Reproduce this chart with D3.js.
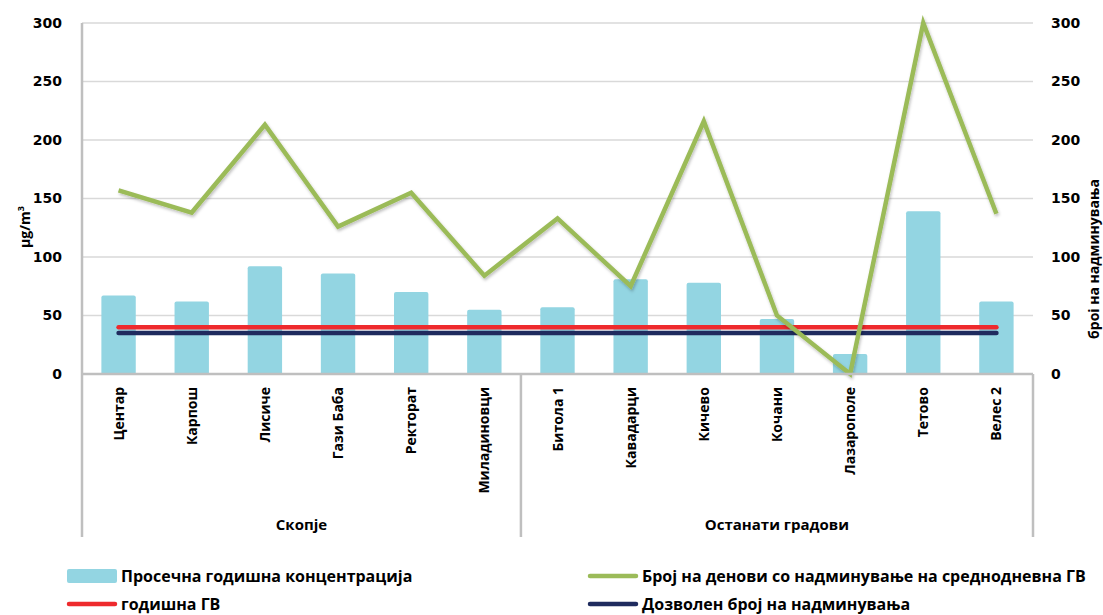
<!DOCTYPE html>
<html>
<head>
<meta charset="utf-8">
<script src="https://cdn.jsdelivr.net/npm/d3@7"></script>
<style>
  html, body { margin: 0; padding: 0; background: #fff; }
  svg { display: block; }
  text { font-family: "Open Sans", "DejaVu Sans", sans-serif; font-weight: bold; fill: #000; }
  .tick-num { font-family: "DejaVu Sans", sans-serif; font-size: 14px; }
</style>
</head>
<body>
<svg id="chart" width="1103" height="615"></svg>
<script>
// Measuring stations, grouped
const stations = ["Центар", "Карпош", "Лисиче", "Гази Баба", "Ректорат", "Миладиновци",
                  "Битола 1", "Кавадарци", "Кичево", "Кочани", "Лазарополе", "Тетово", "Велес 2"];
const groups = [
  { name: "Скопје", first: "Центар", last: "Миладиновци" },
  { name: "Останати градови", first: "Битола 1", last: "Велес 2" }
];
// Average annual concentration (µg/m³)
const annualMean = [67, 62, 92, 86, 70, 55, 57, 81, 78, 47, 17, 139, 62];
// Number of days above the daily limit value
const daysExceeded = [157, 138, 213, 126, 155, 84, 133, 75, 216, 50, 0, 300, 137];
// Annual limit value and allowed number of exceedances
const annualLimit = 40;
const allowedExceedances = 35;
const yTicks = [0, 50, 100, 150, 200, 250, 300];

const colors = { bar: "#93D5E2", days: "#9BBB59", limit: "#EE2A2D", allowed: "#1F2B5E", grid: "#D9D9D9", axis: "#BFBFBF" };

const svg = d3.select("#chart");
const plot = { left: 82, right: 1033, top: 23, bottom: 374 };

const x = d3.scaleBand().domain(stations).range([plot.left, plot.right]).paddingInner(0.53).paddingOuter(0.265);
const yLeft = d3.scaleLinear().domain([0, 300]).range([plot.bottom, plot.top]);
const yRight = d3.scaleLinear().domain([0, 300]).range([plot.bottom, plot.top]);
const cx = s => x(s) + x.bandwidth() / 2;

// shadow under the exceedance line
const defs = svg.append("defs");
const f = defs.append("filter").attr("id", "shadow").attr("x", "-5%").attr("y", "-5%").attr("width", "110%").attr("height", "110%");
f.append("feDropShadow").attr("dx", 1).attr("dy", 2).attr("stdDeviation", 1.5).attr("flood-color", "#000").attr("flood-opacity", 0.25);

// gridlines
svg.append("g").selectAll("line").data(yTicks.filter(d => d > 0)).join("line")
  .attr("x1", plot.left).attr("x2", plot.right)
  .attr("y1", d => yLeft(d)).attr("y2", d => yLeft(d))
  .attr("stroke", colors.grid).attr("stroke-width", 1.5);

// bars
svg.append("g").selectAll("path").data(stations).join("path")
  .attr("fill", colors.bar)
  .attr("d", (s, i) => {
    const x0 = x(s), w = x.bandwidth(), y0 = yLeft(annualMean[i]), y1 = yLeft(0), r = 2;
    return `M${x0},${y1}V${y0 + r}Q${x0},${y0} ${x0 + r},${y0}H${x0 + w - r}Q${x0 + w},${y0} ${x0 + w},${y0 + r}V${y1}Z`;
  });

// constant reference lines
const refLine = d3.line().x(d => cx(d.s)).y(d => yLeft(d.v));
svg.append("path")
  .attr("d", refLine(stations.map(s => ({ s, v: annualLimit }))))
  .attr("fill", "none").attr("stroke", colors.limit).attr("stroke-width", 4.5).attr("stroke-linecap", "round");
svg.append("path")
  .attr("d", refLine(stations.map(s => ({ s, v: allowedExceedances }))))
  .attr("fill", "none").attr("stroke", colors.allowed).attr("stroke-width", 4.5).attr("stroke-linecap", "round");

// exceedance days (right axis)
const daysLine = d3.line().x((d, i) => cx(stations[i])).y(d => yRight(d));
svg.append("path")
  .attr("d", daysLine(daysExceeded))
  .attr("fill", "none").attr("stroke", colors.days).attr("stroke-width", 4.5)
  .attr("stroke-linejoin", "miter").attr("filter", "url(#shadow)");

// category axis frame
const axisBottom = 537;
svg.append("line").attr("x1", plot.left).attr("x2", plot.right).attr("y1", plot.bottom).attr("y2", plot.bottom)
  .attr("stroke", colors.axis).attr("stroke-width", 2.5);
svg.append("line").attr("x1", plot.left).attr("x2", plot.left).attr("y1", plot.top).attr("y2", axisBottom)
  .attr("stroke", colors.axis).attr("stroke-width", 2.5);
const dividers = [plot.left, x(groups[1].first) - x.step() * x.paddingInner() / 2, plot.right];
svg.append("g").selectAll("line").data(dividers.slice(1)).join("line")
  .attr("x1", d => d).attr("x2", d => d).attr("y1", plot.bottom).attr("y2", axisBottom)
  .attr("stroke", colors.axis).attr("stroke-width", 2.5);

// station labels (rotated)
svg.append("g").selectAll("text").data(stations).join("text")
  .attr("transform", s => `translate(${cx(s) + 5},387) rotate(-90)`)
  .attr("text-anchor", "end").style("font-size", "14px")
  .text(s => s);

// group labels
svg.append("g").selectAll("text").data(groups).join("text")
  .attr("x", g => (x(g.first) + x(g.last) + x.bandwidth()) / 2)
  .attr("y", 530).attr("text-anchor", "middle").style("font-size", "15px")
  .text(g => g.name);

// left axis
const leftAxis = svg.append("g").attr("transform", `translate(${plot.left},0)`)
  .call(d3.axisLeft(yLeft).tickValues(yTicks).tickSize(0).tickPadding(20));
leftAxis.select(".domain").remove();
leftAxis.selectAll("text").attr("class", "tick-num").attr("fill", "#000");

// right axis
const rightAxis = svg.append("g").attr("transform", `translate(${plot.right},0)`)
  .call(d3.axisRight(yRight).tickValues(yTicks).tickSize(0).tickPadding(18));
rightAxis.select(".domain").remove();
rightAxis.selectAll("text").attr("class", "tick-num").attr("fill", "#000");

// axis titles
const leftTitle = svg.append("text").attr("transform", "translate(30,227) rotate(-90)")
  .attr("text-anchor", "middle").style("font-size", "14px");
leftTitle.append("tspan").text("µg/m");
leftTitle.append("tspan").attr("dy", -6).style("font-size", "9px").text("3");
svg.append("text").attr("transform", "translate(1099,259) rotate(-90)")
  .attr("text-anchor", "middle").style("font-size", "14px")
  .text("броі на надминувања");

// legend
const legend = [
  { label: "Просечна годишна концентрација", type: "rect", color: colors.bar, x: 67, y: 576 },
  { label: "Број на денови со надминување на среднодневна ГВ", type: "line", color: colors.days, x: 588, y: 576 },
  { label: "годишна ГВ", type: "line", color: colors.limit, x: 67, y: 604 },
  { label: "Дозволен број на надминувања", type: "line", color: colors.allowed, x: 588, y: 604 }
];
const lg = svg.append("g").selectAll("g").data(legend).join("g")
  .attr("transform", d => `translate(${d.x},${d.y})`);
lg.filter(d => d.type === "rect").append("rect")
  .attr("x", 0).attr("y", -7).attr("width", 50).attr("height", 14).attr("rx", 2).attr("fill", d => d.color);
lg.filter(d => d.type === "line").append("line")
  .attr("x1", 2).attr("x2", 48).attr("y1", 0).attr("y2", 0)
  .attr("stroke", d => d.color).attr("stroke-width", 4.5).attr("stroke-linecap", "round");
lg.append("text").attr("x", 54).attr("y", 0).attr("dy", "0.35em").style("font-size", "16px")
  .text(d => d.label);
</script>
</body>
</html>
